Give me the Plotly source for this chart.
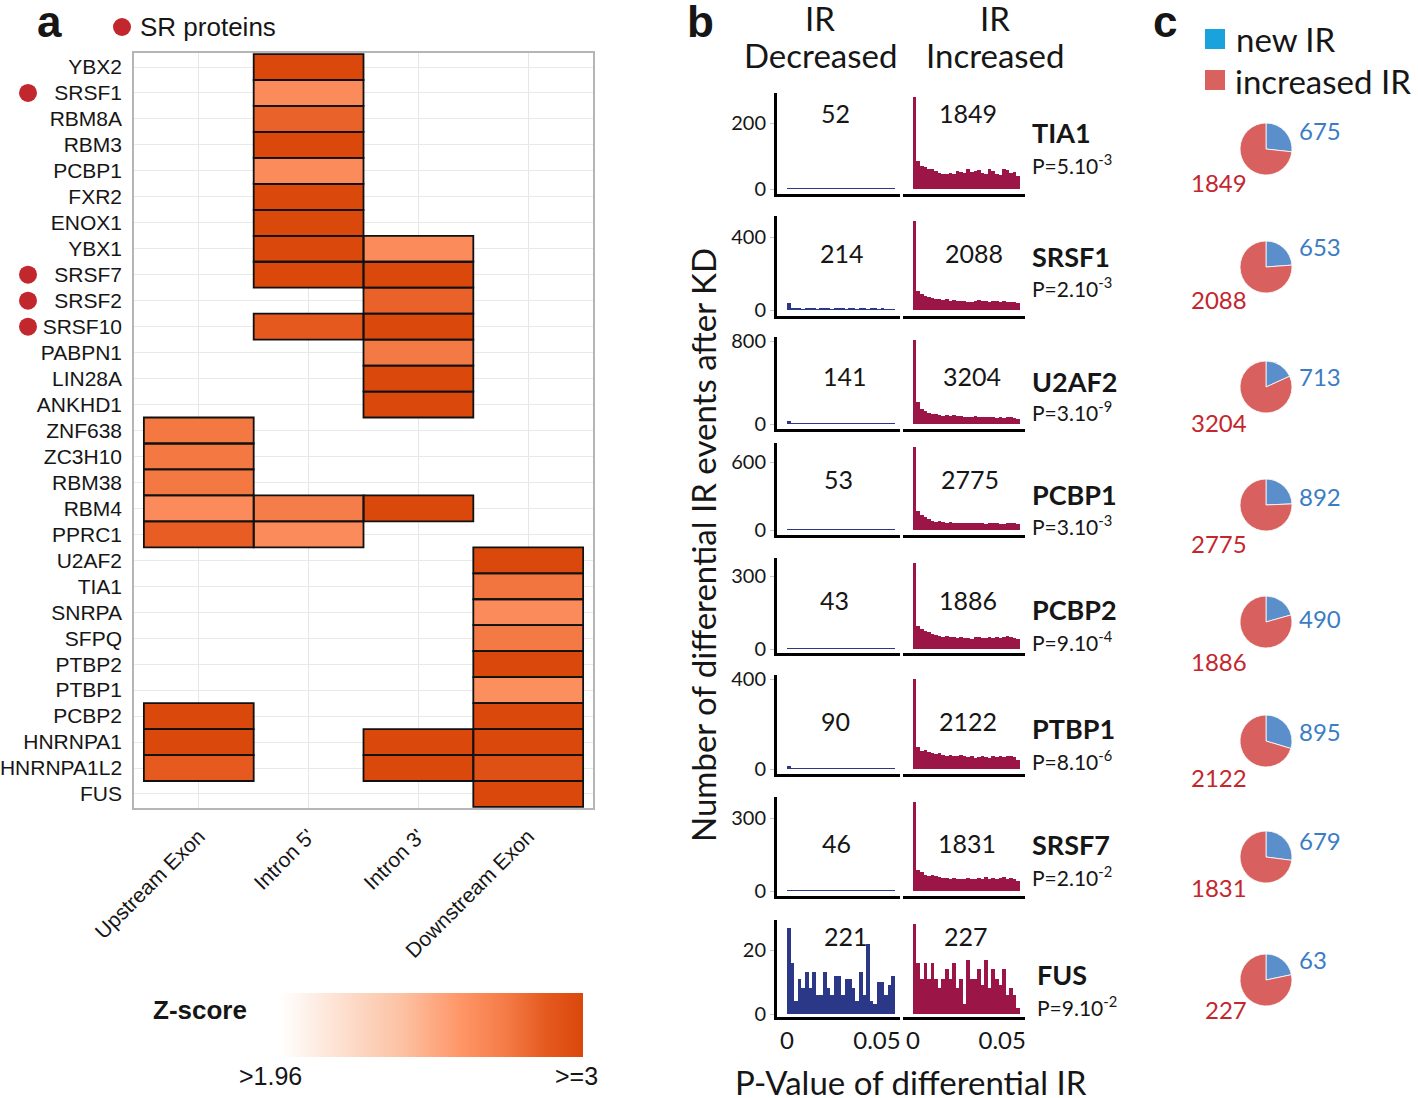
import plotly.graph_objects as go

W, H = 1418, 1098

# ---------------- Panel a data ----------------
rbps = ["YBX2", "SRSF1", "RBM8A", "RBM3", "PCBP1", "FXR2", "ENOX1", "YBX1", "SRSF7",
        "SRSF2", "SRSF10", "PABPN1", "LIN28A", "ANKHD1", "ZNF638", "ZC3H10", "RBM38",
        "RBM4", "PPRC1", "U2AF2", "TIA1", "SNRPA", "SFPQ", "PTBP2", "PTBP1", "PCBP2",
        "HNRNPA1", "HNRNPA1L2", "FUS"]
regions = ["Upstream Exon", "Intron 5'", "Intron 3'", "Downstream Exon"]
N = None
z_upstream_exon = [N, N, N, N, N, N, N, N, N, N, N, N, N, N,
                   2.75, 2.75, 2.75, 2.64, 2.86, N, N, N, N, N, N, 3.0, 3.0, 2.87, N]
z_intron5 = [3.0, 2.64, 2.84, 3.0, 2.64, 3.0, 3.0, 3.0, 3.0, N, 2.88, N, N, N,
             N, N, N, 2.72, 2.64, N, N, N, N, N, N, N, N, N, N]
z_intron3 = [N, N, N, N, N, N, N, 2.64, 3.0, 2.84, 3.0, 2.74, 3.0, 3.0,
             N, N, N, 3.0, N, N, N, N, N, N, N, N, 3.0, 3.0, N]
z_downstream_exon = [N, N, N, N, N, N, N, N, N, N, N, N, N, N, N, N, N, N, N,
                     3.0, 2.76, 2.64, 2.74, 3.0, 2.62, 3.0, 3.0, 2.94, 3.0]
sr_proteins = ["SRSF1", "SRSF7", "SRSF2", "SRSF10"]

# ---------------- Panel b / c data ----------------
kd_proteins = ["TIA1", "SRSF1", "U2AF2", "PCBP1", "PCBP2", "PTBP1", "SRSF7", "FUS"]
decreased_ir = [52, 214, 141, 53, 43, 90, 46, 221]
increased_ir = [1849, 2088, 3204, 2775, 1886, 2122, 1831, 227]
new_ir = [675, 653, 713, 892, 490, 895, 679, 63]
p_mantissa = [5, 2, 3, 3, 9, 8, 2, 9]
p_exponent = [-3, -3, -9, -3, -4, -6, -2, -2]
y_tick_top = [200, 400, 800, 600, 300, 400, 300, 20]
bin_width = 0.002

dec_TIA1 = [3, 2, 2, 1, 2, 2, 1, 2, 3, 2, 2, 1, 2, 3, 2, 1, 2, 2, 1, 2, 1, 2, 2, 1, 2, 2, 1, 1, 1, 1]
inc_TIA1 = [280, 85, 70, 68, 62, 60, 56, 50, 44, 46, 50, 46, 54, 52, 47, 60, 52, 56, 58, 50, 44, 60, 56, 46, 42, 60, 58, 50, 52, 40]
dec_SRSF1 = [38, 8, 6, 7, 5, 6, 6, 7, 5, 6, 7, 6, 5, 6, 7, 6, 5, 6, 6, 5, 6, 7, 5, 6, 6, 5, 6, 5, 4, 3]
inc_SRSF1 = [490, 105, 88, 78, 72, 66, 62, 60, 56, 58, 52, 55, 50, 48, 52, 46, 44, 50, 54, 52, 48, 46, 52, 48, 44, 50, 46, 42, 46, 40]
dec_U2AF2 = [32, 6, 4, 4, 3, 4, 4, 3, 4, 4, 3, 4, 4, 3, 4, 4, 3, 4, 4, 3, 4, 4, 3, 4, 4, 3, 3, 2, 2, 1]
inc_U2AF2 = [810, 215, 140, 125, 110, 100, 92, 88, 80, 84, 78, 82, 74, 76, 70, 72, 68, 74, 66, 70, 64, 68, 66, 62, 66, 60, 64, 66, 58, 50]
dec_PCBP1 = [2, 2, 2, 1, 2, 2, 2, 1, 2, 2, 2, 2, 1, 2, 2, 2, 2, 1, 2, 2, 2, 2, 1, 2, 2, 2, 1, 2, 1, 1]
inc_PCBP1 = [730, 170, 135, 112, 95, 82, 75, 80, 70, 66, 72, 64, 62, 66, 60, 58, 62, 60, 64, 58, 56, 60, 62, 58, 54, 56, 60, 58, 62, 54]
dec_PCBP2 = [2, 1, 2, 1, 1, 2, 1, 2, 1, 1, 2, 1, 2, 1, 1, 2, 1, 2, 1, 1, 2, 1, 2, 2, 1, 2, 2, 1, 1, 1]
inc_PCBP2 = [355, 96, 82, 72, 68, 60, 56, 54, 50, 52, 48, 50, 46, 48, 44, 46, 42, 48, 50, 44, 46, 48, 46, 50, 44, 48, 52, 50, 44, 40]
dec_PTBP1 = [15, 4, 3, 3, 2, 3, 3, 2, 3, 3, 2, 3, 3, 2, 3, 3, 2, 3, 3, 2, 3, 3, 2, 3, 3, 2, 2, 2, 1, 1]
inc_PTBP1 = [398, 100, 78, 86, 74, 70, 66, 70, 62, 58, 64, 60, 56, 62, 58, 54, 56, 50, 54, 58, 52, 50, 56, 54, 58, 52, 56, 60, 54, 40]
dec_SRSF7 = [2, 1, 2, 2, 1, 2, 1, 2, 2, 1, 2, 1, 2, 2, 1, 2, 1, 2, 2, 1, 2, 1, 2, 1, 2, 1, 3, 2, 1, 1]
inc_SRSF7 = [365, 88, 80, 66, 62, 64, 60, 56, 54, 52, 50, 52, 48, 50, 50, 52, 48, 50, 54, 48, 56, 50, 54, 48, 52, 56, 50, 54, 48, 42]
dec_FUS = [27, 16, 4, 11, 8, 13, 8, 13, 6, 6, 13, 8, 6, 12, 12, 6, 11, 11, 8, 4, 13, 6, 22, 4, 3, 10, 10, 6, 9, 12]
inc_FUS = [28, 16, 11, 16, 11, 16, 11, 8, 11, 14, 11, 16, 8, 11, 3, 17, 11, 11, 14, 9, 17, 8, 14, 11, 9, 14, 6, 8, 6, 2]

hist_dec = [dec_TIA1, dec_SRSF1, dec_U2AF2, dec_PCBP1, dec_PCBP2, dec_PTBP1, dec_SRSF7, dec_FUS]
hist_inc = [inc_TIA1, inc_SRSF1, inc_U2AF2, inc_PCBP1, inc_PCBP2, inc_PTBP1, inc_SRSF7, inc_FUS]

# ---------------- styling / layout constants (pixels) ----------------
FA = "Liberation Sans, Arial, sans-serif"
FB = "Lato, Open Sans, sans-serif"
INK = "#161616"
COL_DEC = "#2B3787"
COL_INC = "#9C1547"
PIE_NEW = "#5B8FCB"
PIE_INC = "#D8605E"
TXT_BLUE = "#3B7DC4"
TXT_RED = "#C4262E"
SR_RED = "#C1272D"
CLEAR = "rgba(0,0,0,0)"

def fx(px):
    return px / W

def fy(px):
    return 1 - px / H

row_top = [93, 216, 337, 443, 558, 675, 797, 920]
row_bottom = [194, 316, 429, 535, 653, 774, 896, 1017]
zero_px = [189, 310, 424, 530, 649, 769, 891, 1014]
tick_px = [123, 237, 341, 462, 576, 679, 818, 950]
num_y = [113, 253, 376, 479, 600, 721, 843, 936]
num_x_dec = [835, 842, 845, 838, 834, 835, 836, 846]
num_x_inc = [968, 974, 972, 970, 968, 968, 967, 966]
name_y = [133, 257, 381, 495, 609, 728, 844, 974]
pval_y = [164, 287, 411, 525, 641, 760, 876, 1006]
name_x = [1030, 1030, 1030, 1030, 1030, 1030, 1030, 1035]
pie_cy = [149, 267, 387, 505, 622, 741, 857, 980]
pie_new_y = [131, 246, 376, 496, 618, 731, 840, 959]
pie_inc_y = [183, 299, 422, 543, 661, 777, 887, 1010]

fig = go.Figure()

# ---------------- Panel a: heatmap ----------------
z = [[z_upstream_exon[i], z_intron5[i], z_intron3[i], z_downstream_exon[i]] for i in range(len(rbps))]
cscale = [[0.0, "#FFFFFF"], [0.2, "#FDE0D0"], [0.4, "#FCC2A3"], [0.6, "#FF9566"],
          [0.75, "#F47A45"], [0.88, "#E5591F"], [1.0, "#DA480B"]]
fig.add_trace(go.Heatmap(
    z=z, x=regions, y=rbps, colorscale=cscale, zmin=1.96, zmax=3.0,
    hoverongaps=False,
    colorbar=dict(orientation="h", x=fx(431.5), xanchor="center", y=fy(1057), yanchor="bottom",
                  len=303, lenmode="pixels", thickness=64, thicknessmode="pixels",
                  showticklabels=False, ticks="", outlinewidth=0, xpad=0, ypad=0),
))

shapes = []
for i in range(len(rbps)):
    for j in range(len(regions)):
        if z[i][j] is not None:
            shapes.append(dict(type="rect", xref="x", yref="y", x0=j - 0.5, x1=j + 0.5,
                               y0=i - 0.5, y1=i + 0.5, line=dict(color="#111111", width=1.8)))

# SR protein markers beside row labels (own axes, same row scale as the heatmap)
fig.add_trace(go.Scatter(x=[28] * len(sr_proteins), y=sr_proteins, mode="markers",
                         marker=dict(size=18, color=SR_RED), xaxis="x18", yaxis="y18",
                         hoverinfo="skip", showlegend=False, cliponaxis=False))
# SR legend dot
fig.add_trace(go.Scatter(x=[122], y=[27], mode="markers", marker=dict(size=18, color=SR_RED),
                         xaxis="x19", yaxis="y19", hoverinfo="skip", showlegend=False,
                         cliponaxis=False))

heat_ydom = [fy(808), fy(53)]
heat_yrange = [28.54, -0.54]

layout = dict(
    template="none",
    width=W, height=H, margin=dict(l=0, r=0, t=0, b=0, autoexpand=False),
    paper_bgcolor="white", plot_bgcolor=CLEAR, showlegend=False,
    bargap=0,
    xaxis=dict(domain=[fx(134), fx(593)], range=[-0.59, 3.59], anchor="y", automargin=False,
               type="category", categoryorder="array", categoryarray=regions,
               tickangle=-45, tickfont=dict(family=FA, size=21, color=INK),
               showgrid=True, gridcolor="#E6E6E6", gridwidth=1,
               showline=True, mirror=True, linecolor="#B5B5B5", linewidth=1.5,
               ticks="outside", ticklen=6, tickcolor=CLEAR, zeroline=False),
    yaxis=dict(domain=heat_ydom, range=heat_yrange, anchor="x", automargin=False,
               type="category", categoryorder="array", categoryarray=rbps,
               tickfont=dict(family=FA, size=21, color=INK),
               showgrid=True, gridcolor="#E9E9E9", gridwidth=1,
               showline=True, mirror=True, linecolor="#B5B5B5", linewidth=1.5,
               ticks="outside", ticklen=6, tickcolor=CLEAR, zeroline=False),
    xaxis18=dict(domain=[0, 1], range=[0, W], anchor="y18", visible=False, automargin=False),
    yaxis18=dict(domain=heat_ydom, range=heat_yrange, anchor="x18", visible=False,
                 type="category", categoryorder="array", categoryarray=rbps,
                 showgrid=False, automargin=False),
    xaxis19=dict(domain=[0, 1], range=[0, W], anchor="y19", visible=False, automargin=False),
    yaxis19=dict(domain=[0, 1], range=[H, 0], anchor="x19", visible=False, automargin=False),
)

# ---------------- Panel b: histograms ----------------
n_bins = len(dec_TIA1)
bin_centers = [bin_width * (i + 0.5) for i in range(n_bins)]
px_per_unit = 1800
x_min = -10 / px_per_unit
x_max = x_min + 123 / px_per_unit
col_dom = [[fx(777), fx(900)], [fx(903), fx(1025)]]

for r in range(len(kd_proteins)):
    ppu = (zero_px[r] - tick_px[r]) / y_tick_top[r]
    y_rng = [-(row_bottom[r] - zero_px[r]) / ppu, (zero_px[r] - row_top[r]) / ppu]
    for c, (counts, color) in enumerate([(hist_dec[r], COL_DEC), (hist_inc[r], COL_INC)]):
        k = 2 + 2 * r + c
        fig.add_trace(go.Bar(x=bin_centers, y=counts, width=bin_width,
                             marker=dict(color=color, line=dict(width=0)),
                             xaxis=f"x{k}", yaxis=f"y{k}", hoverinfo="skip", showlegend=False))
        layout[f"xaxis{k}"] = dict(
            domain=col_dom[c], range=[x_min, x_max], anchor=f"y{k}", automargin=False,
            showline=True, linecolor="black", linewidth=3, showgrid=False, zeroline=False,
            ticks="", tickvals=[0, 0.05], ticktext=["0", "0.05"],
            showticklabels=(r == len(kd_proteins) - 1),
            tickfont=dict(family=FB, size=24, color=INK))
        layout[f"yaxis{k}"] = dict(
            domain=[fy(row_bottom[r]), fy(row_top[r])], range=y_rng, anchor=f"x{k}",
            automargin=False,
            showline=(c == 0), linecolor="black", linewidth=3, showgrid=False, zeroline=False,
            showticklabels=(c == 0), tickvals=[0, y_tick_top[r]],
            ticks="outside" if c == 0 else "", ticklen=4, tickcolor="#C8C8C8",
            tickfont=dict(family=FB, size=20, color=INK))

# ---------------- Panel c: pies ----------------
for r in range(len(kd_proteins)):
    fig.add_trace(go.Pie(values=[new_ir[r], increased_ir[r]], labels=["new IR", "increased IR"],
                         marker=dict(colors=[PIE_NEW, PIE_INC], line=dict(color="white", width=0.8)),
                         sort=False, direction="clockwise", rotation=0, textinfo="none",
                         hoverinfo="skip", showlegend=False,
                         domain=dict(x=[fx(1240), fx(1292)], y=[fy(pie_cy[r] + 26), fy(pie_cy[r] - 26)])))

# ---------------- annotations ----------------
ann = []

def add_text(text, x, y, size, family, color=INK, xanchor="center", bold=False, angle=0):
    t = f"<b>{text}</b>" if bold else text
    ann.append(dict(text=t, x=fx(x), y=fy(y), xref="paper", yref="paper", showarrow=False,
                    xanchor=xanchor, yanchor="middle", textangle=angle,
                    font=dict(family=family, size=size, color=color)))

# panel letters
add_text("a", 49, 22, 44, FA, bold=True)
add_text("b", 700, 22, 44, FA, bold=True)
add_text("c", 1165, 22, 44, FA, bold=True)
add_text("SR proteins", 138, 27, 26, FA, xanchor="left")

# colorbar labels
add_text("Z-score", 200, 1010, 26, FA, bold=True)
add_text("&gt;1.96", 270, 1076, 25, FA)
add_text("&gt;=3", 576, 1076, 25, FA)

# panel b headers and titles
add_text("IR", 820, 18, 33, FB)
add_text("Decreased", 820, 55, 33, FB)
add_text("IR", 995, 18, 33, FB)
add_text("Increased", 995, 55, 33, FB)
add_text("Number of differential IR events after KD", 703, 545, 33, FB, angle=-90)
add_text("P-Value of differential IR", 911, 1082, 33, FB)

for r in range(len(kd_proteins)):
    add_text(str(decreased_ir[r]), num_x_dec[r], num_y[r], 25, FB)
    add_text(str(increased_ir[r]), num_x_inc[r], num_y[r], 25, FB)
    add_text(kd_proteins[r], name_x[r], name_y[r], 27, FB, xanchor="left", bold=True)
    add_text(f"P={p_mantissa[r]}.10<sup>{p_exponent[r]}</sup>", name_x[r], pval_y[r], 21, FB, xanchor="left")
    add_text(str(new_ir[r]), 1297, pie_new_y[r], 24, FB, color=TXT_BLUE, xanchor="left")
    add_text(str(increased_ir[r]), 1249, pie_inc_y[r], 24, FB, color=TXT_RED, xanchor="right")

# panel c legend
add_text("new IR", 1234, 39, 33, FB, xanchor="left")
add_text("increased IR", 1233, 81, 33, FB, xanchor="left")
shapes.append(dict(type="rect", xref="paper", yref="paper", x0=fx(1205), x1=fx(1225),
                   y0=fy(49), y1=fy(29), fillcolor="#1AA2DC", line=dict(width=0)))
shapes.append(dict(type="rect", xref="paper", yref="paper", x0=fx(1205), x1=fx(1225),
                   y0=fy(90), y1=fy(70), fillcolor="#D9625F", line=dict(width=0)))

layout["annotations"] = ann
layout["shapes"] = shapes
fig.update_layout(**layout)

fig.write_html("out.html", config={"displayModeBar": False},
               post_script="document.body.style.margin='0px';document.body.style.overflow='hidden';")
